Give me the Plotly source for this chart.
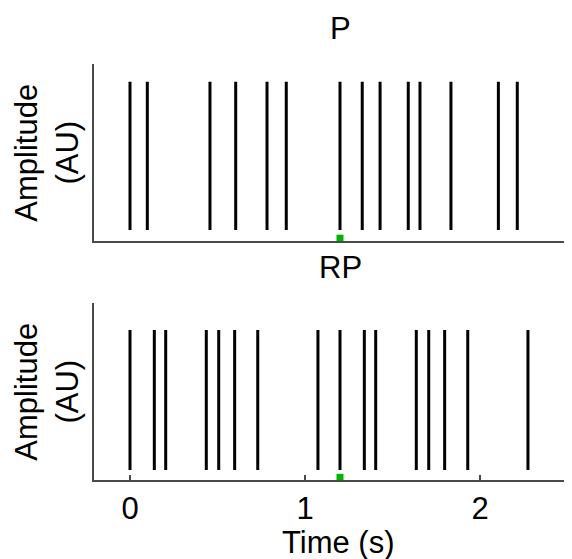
import plotly.graph_objects as go

# Spike times (s)
p_spike_times = [0.0, 0.099, 0.457, 0.604, 0.783, 0.893, 1.2, 1.327, 1.429,
                 1.590, 1.657, 1.834, 2.105, 2.213]
rp_spike_times = [0.0, 0.139, 0.204, 0.436, 0.507, 0.598, 0.730, 1.074, 1.2,
                  1.339, 1.404, 1.636, 1.707, 1.798, 1.930, 2.274]
spike_low = -1.0
spike_high = 1.0
marker_time = [1.2]
x_tick_vals = [0, 1, 2]
x_tick_text = ["0", "1", "2"]
panel_titles = ["P", "RP"]

OFF = 8  # page body margin
W, H = 572 - OFF, 559 - OFF
FONT = "Liberation Sans, Arial, Helvetica, sans-serif"
FS = 31


def spike_xy(times):
    xs, ys = [], []
    for t in times:
        xs += [t, t, None]
        ys += [spike_low, spike_high, None]
    return xs, ys


def px(pix):
    return (pix - OFF) / W


def py(pix):
    return 1 - (pix - OFF) / H


fig = go.Figure()

panels = [
    dict(times=p_spike_times, top=64.3, bottom=241.0, yr=[-1.148, 1.235], mk=-1.11),
    dict(times=rp_spike_times, top=303.3, bottom=480.0, yr=[-1.143, 1.381], mk=-1.105),
]

for i, pnl in enumerate(panels):
    xa = "x" if i == 0 else "x2"
    ya = "y" if i == 0 else "y2"
    xs, ys = spike_xy(pnl["times"])
    fig.add_trace(go.Scatter(x=xs, y=ys, mode="lines", xaxis=xa, yaxis=ya,
                             line=dict(color="black", width=3), showlegend=False,
                             hoverinfo="skip"))
    fig.add_trace(go.Scatter(x=marker_time, y=[pnl["mk"]] * len(marker_time),
                             mode="markers", xaxis=xa, yaxis=ya,
                             marker=dict(symbol="square", size=7, color="#00b400",
                                         line=dict(width=0)),
                             showlegend=False, hoverinfo="skip", cliponaxis=False))

xdom = [px(94), 1.0]
xrange = [-0.2057, 2.5257]
axis_line = dict(showline=True, linecolor="#4a4a4a", linewidth=1.5,
                 showgrid=False, zeroline=False)

fig.update_layout(
    width=W, height=H,
    margin=dict(l=0, r=0, t=0, b=0),
    paper_bgcolor="white", plot_bgcolor="white",
    font=dict(family=FONT, size=FS, color="black"),
    xaxis=dict(domain=xdom, range=xrange, anchor="y", showticklabels=False,
               ticks="", **axis_line),
    yaxis=dict(domain=[py(panels[0]["bottom"]), py(panels[0]["top"])],
               range=panels[0]["yr"], anchor="x", showticklabels=False, ticks="",
               **axis_line),
    xaxis2=dict(domain=xdom, range=xrange, anchor="y2", tickvals=x_tick_vals,
                ticktext=x_tick_text, ticks="inside", ticklen=5, tickwidth=1.5,
                tickcolor="#4a4a4a", tickfont=dict(size=FS, family=FONT, color="black"),
                **axis_line),
    yaxis2=dict(domain=[py(panels[1]["bottom"]), py(panels[1]["top"])],
                range=panels[1]["yr"], anchor="x2", showticklabels=False, ticks="",
                **axis_line),
)

annotations = []
for title, pnl in zip(panel_titles, panels):
    annotations.append(dict(text=title, xref="paper", yref="paper",
                            x=px(340), y=py(pnl["top"] - 36), xanchor="center",
                            yanchor="middle", showarrow=False,
                            font=dict(size=FS, family=FONT, color="black")))
    annotations.append(dict(text="Amplitude<br>(AU)", xref="paper", yref="paper",
                            x=px(47), y=py((pnl["top"] + pnl["bottom"]) / 2),
                            xanchor="center", yanchor="middle", textangle=-90,
                            showarrow=False,
                            font=dict(size=FS, family=FONT, color="black")))
annotations.append(dict(text="Time (s)", xref="paper", yref="paper",
                        x=px(338), y=py(542), xanchor="center", yanchor="middle",
                        showarrow=False, font=dict(size=FS, family=FONT, color="black")))
fig.update_layout(annotations=annotations)

fig.write_html("out.html")
